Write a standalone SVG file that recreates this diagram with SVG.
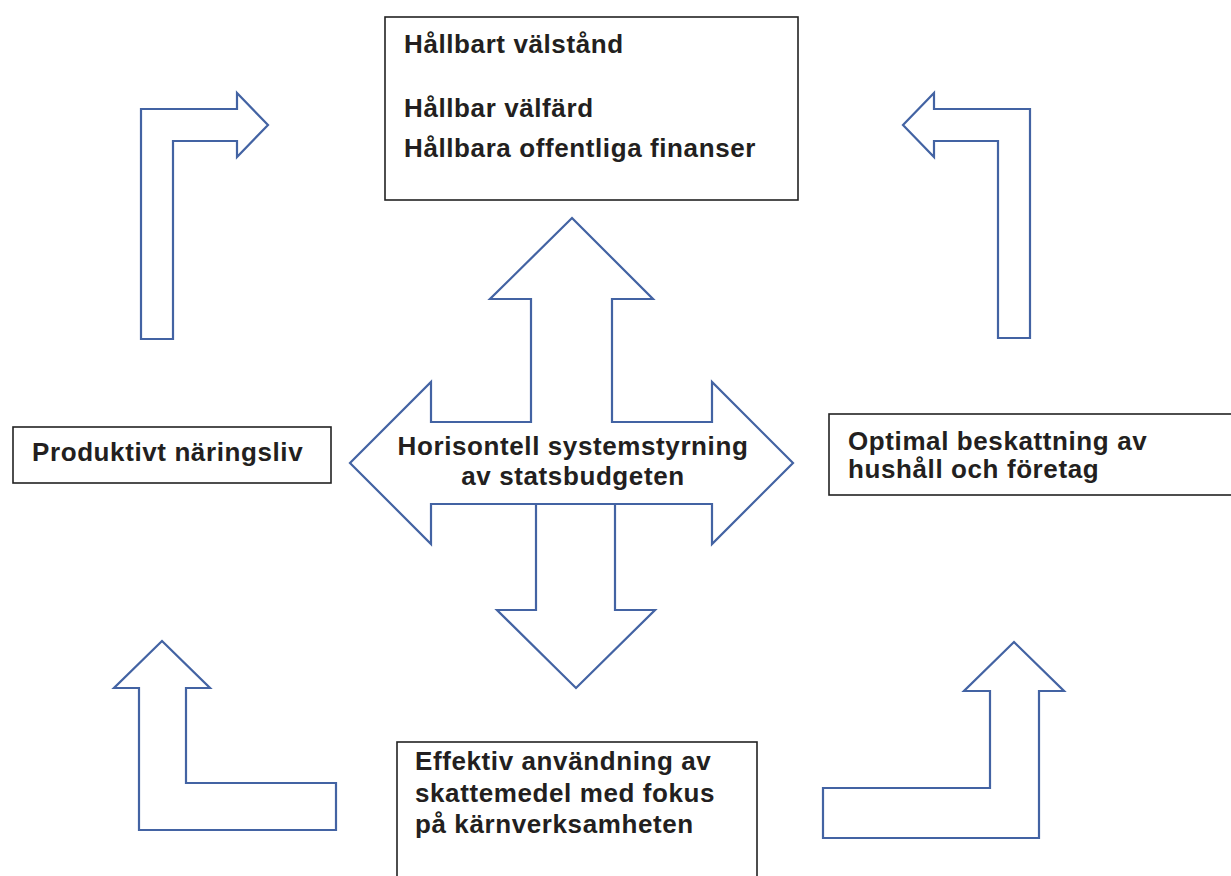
<svg xmlns="http://www.w3.org/2000/svg" width="1231" height="876" viewBox="0 0 1231 876">
<style>
.arr{fill:#fff;stroke:#4363a3;stroke-width:2.2;stroke-linejoin:miter}
.box{fill:#fff;stroke:#222;stroke-width:1.6}
.t{font-family:"Liberation Sans",Arial,sans-serif;font-weight:bold;font-size:26px;letter-spacing:0.6px;fill:#231f20}
.c{text-anchor:middle}
</style>
<rect width="1231" height="876" fill="#fff"/>
<g id="connectors">
<polygon id="arrow-top-left" class="arr" points="141,339 141,109 237,109 237,93 268,125 237,157 237,141 173,141 173,339"/>
<polygon id="arrow-top-right" class="arr" points="1030,338 1030,109 934,109 934,93 903,125 934,157 934,141 998,141 998,338"/>
<polygon id="arrow-bottom-left" class="arr" points="162,641 210,688 186,688 186,783 336,783 336,830 139,830 139,688 114,688"/>
<polygon id="arrow-bottom-right" class="arr" points="1014,642 1064,691 1039,691 1039,838 823,838 823,788 990,788 990,691 964,691"/>
</g>
<g id="center">
<polygon class="arr" points="572,218 653,299 612,299 612,422 712,422 712,382 793,463 712,544 712,504 431,504 431,544 350,463 431,382 431,422 531,422 531,299 490,299"/>
<polygon class="arr" points="536,504 615,504 615,610 655,610 576,688 497,610 536,610"/>
<text class="t c" x="573" y="455">Horisontell systemstyrning</text>
<text class="t c" x="573" y="485">av statsbudgeten</text>
</g>
<g id="node-top">
<rect class="box" x="385" y="17" width="413" height="183"/>
<text class="t" x="404" y="53">Hållbart välstånd</text>
<text class="t" x="404" y="117">Hållbar välfärd</text>
<text class="t" x="404" y="157">Hållbara offentliga finanser</text>
</g>
<g id="node-left">
<rect class="box" x="13" y="427" width="318" height="56"/>
<text class="t" x="32" y="461">Produktivt näringsliv</text>
</g>
<g id="node-right">
<rect class="box" x="829" y="414" width="412" height="81"/>
<text class="t" x="848" y="450">Optimal beskattning av</text>
<text class="t" x="848" y="478">hushåll och företag</text>
</g>
<g id="node-bottom">
<rect class="box" x="397" y="742" width="360" height="150"/>
<text class="t" x="415" y="770">Effektiv användning av</text>
<text class="t" x="415" y="802">skattemedel med fokus</text>
<text class="t" x="415" y="833">på kärnverksamheten</text>
</g>
</svg>
